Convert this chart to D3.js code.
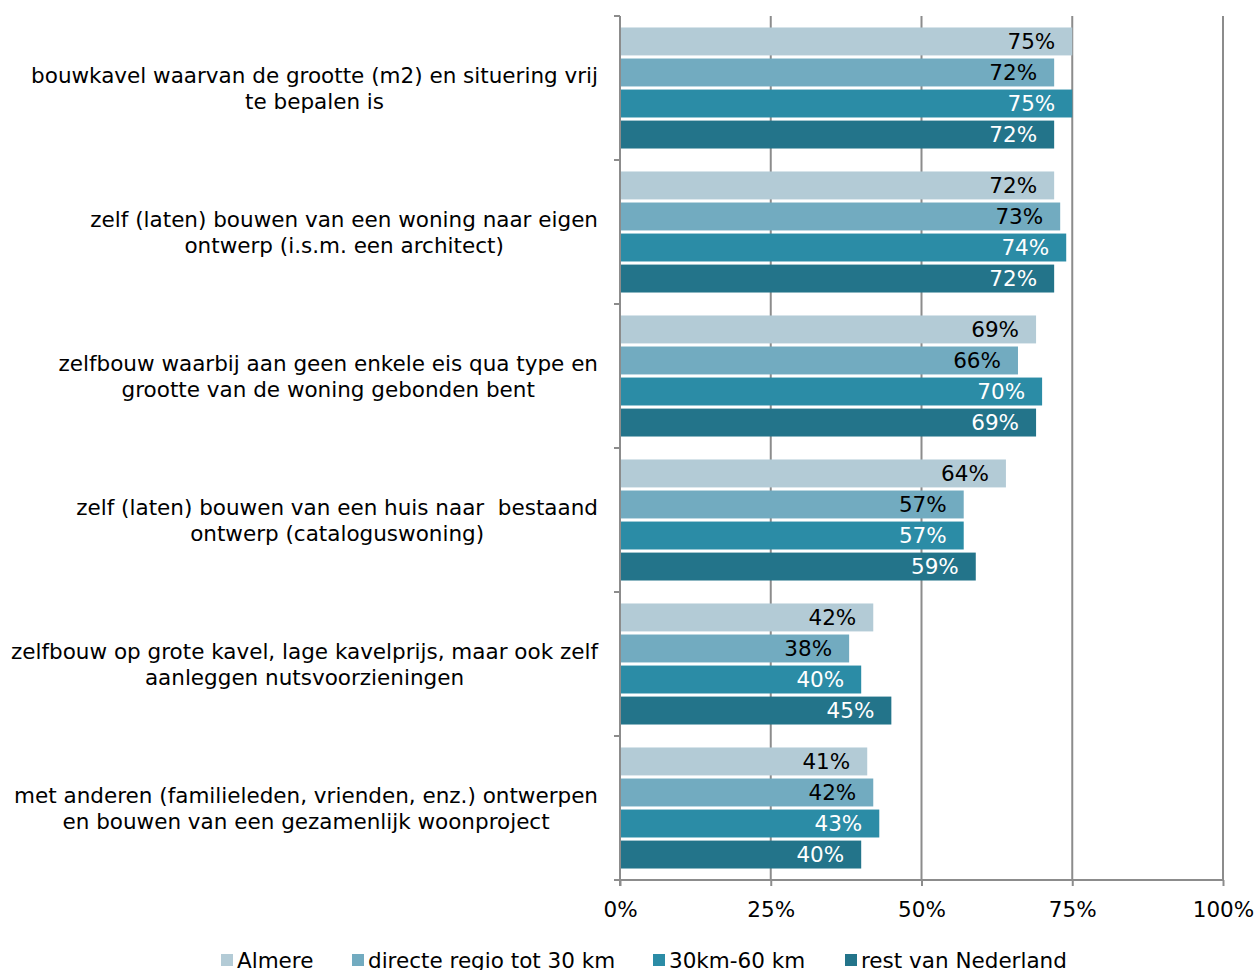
<!DOCTYPE html>
<html><head><meta charset="utf-8">
<script src="https://cdn.jsdelivr.net/npm/d3@7"></script>
<style>body{margin:0;background:#fff;} text{font-family:"DejaVu Sans",Verdana,sans-serif;white-space:pre;}</style>
</head><body>
<svg id="c" width="1258" height="970"></svg>
<script>
const categories = [
  ["bouwkavel waarvan de grootte (m2) en situering vrij", "te bepalen is"],
  ["zelf (laten) bouwen van een woning naar eigen", "ontwerp (i.s.m. een architect)"],
  ["zelfbouw waarbij aan geen enkele eis qua type en", "grootte van de woning gebonden bent"],
  ["zelf (laten) bouwen van een huis naar  bestaand", "ontwerp (cataloguswoning)"],
  ["zelfbouw op grote kavel, lage kavelprijs, maar ook zelf", "aanleggen nutsvoorzieningen"],
  ["met anderen (familieleden, vrienden, enz.) ontwerpen", "en bouwen van een gezamenlijk woonproject"]
];
const seriesNames = ["Almere", "directe regio tot 30 km", "30km-60 km", "rest van Nederland"];
const almere = [75, 72, 69, 64, 42, 41];
const directe = [72, 73, 66, 57, 38, 42];
const km3060 = [75, 74, 70, 57, 40, 43];
const rest = [72, 72, 69, 59, 45, 40];
const seriesValues = [almere, directe, km3060, rest];
const colors = ["#b3cbd6", "#72abc0", "#2b8ca6", "#23748a"];
const labelColors = ["#000", "#000", "#fff", "#fff"];
const xTicks = [0, 25, 50, 75, 100];

(function () {
const svg = d3.select("#c");
const FS = 21.5;
const mLeft = 620, mRight = 1223, mTop = 16, mBottom = 880;
const x = d3.scaleLinear().domain([0, 100]).range([mLeft, mRight]);
const y0 = d3.scaleBand().domain(d3.range(categories.length)).range([mTop, mBottom]).paddingInner(0).paddingOuter(0);
const y1 = d3.scaleBand().domain(d3.range(4)).range([0, y0.bandwidth()]).paddingInner(0.1).paddingOuter(0.37);
const grid = "#8c8c8c";

svg.append("g").selectAll("line").data(xTicks.filter(d => d > 0)).join("line")
  .attr("x1", d => x(d)).attr("x2", d => x(d)).attr("y1", mTop).attr("y2", mBottom)
  .attr("stroke", grid).attr("stroke-width", 2);

const cg = svg.append("g").selectAll("g").data(categories).join("g")
  .attr("transform", (d, i) => `translate(0,${y0(i)})`);
cg.each(function(c, ci) {
  const g = d3.select(this);
  seriesValues.forEach((vals, si) => {
    g.append("rect").attr("x", x(0)).attr("y", y1(si))
      .attr("width", x(vals[ci]) - x(0)).attr("height", y1.bandwidth())
      .attr("fill", colors[si]);
    g.append("text").attr("x", x(vals[ci]) - 17).attr("y", y1(si) + y1.bandwidth() / 2)
      .attr("dy", "0.36em").attr("text-anchor", "end").attr("font-size", FS)
      .attr("fill", labelColors[si]).text(vals[ci] + "%");
  });
});

svg.append("line").attr("x1", mLeft).attr("x2", mLeft).attr("y1", mTop).attr("y2", mBottom + 6).attr("stroke", grid).attr("stroke-width", 2);
svg.append("g").selectAll("line").data(d3.range(categories.length + 1)).join("line")
  .attr("x1", mLeft - 6).attr("x2", mLeft).attr("y1", i => mTop + i * y0.step()).attr("y2", i => mTop + i * y0.step())
  .attr("stroke", grid).attr("stroke-width", 2);
const xAxis = svg.append("g").attr("transform", `translate(0,${mBottom})`)
  .call(d3.axisBottom(x).tickValues(xTicks).tickFormat(d => d + "%").tickSize(6).tickPadding(16));
xAxis.select(".domain").attr("stroke", grid).attr("stroke-width", 2).attr("d", `M${mLeft - 6},0H${mRight}`);
xAxis.selectAll(".tick line").attr("stroke", grid).attr("stroke-width", 2);
xAxis.selectAll(".tick text").attr("font-size", FS).attr("fill", "#000").style("font-family", '"DejaVu Sans",Verdana,sans-serif');

categories.forEach((lines, i) => {
  const cy = y0(i) + y0.bandwidth() / 2;
  const t = svg.append("text").attr("font-size", FS).attr("fill", "#000").attr("text-anchor", "middle");
  const spans = lines.map((l, k) => t.append("tspan").attr("y", cy + (k - (lines.length - 1) / 2) * 26).attr("dy", "0.36em").text(l));
  const maxW = d3.max(spans, s => s.node().getComputedTextLength());
  spans.forEach(s => s.attr("x", 598 - maxW / 2));
});

const legendX = [221, 352, 653, 845];
const lg = svg.append("g").selectAll("g").data(seriesNames).join("g")
  .attr("transform", (d, i) => `translate(${legendX[i]},960)`);
lg.append("rect").attr("x", 0).attr("y", -6).attr("width", 12).attr("height", 12).attr("fill", (d, i) => colors[i]);
lg.append("text").attr("x", 16).attr("dy", "0.36em").attr("font-size", FS).attr("fill", "#000").text(d => d);
})();
</script>
</body></html>
